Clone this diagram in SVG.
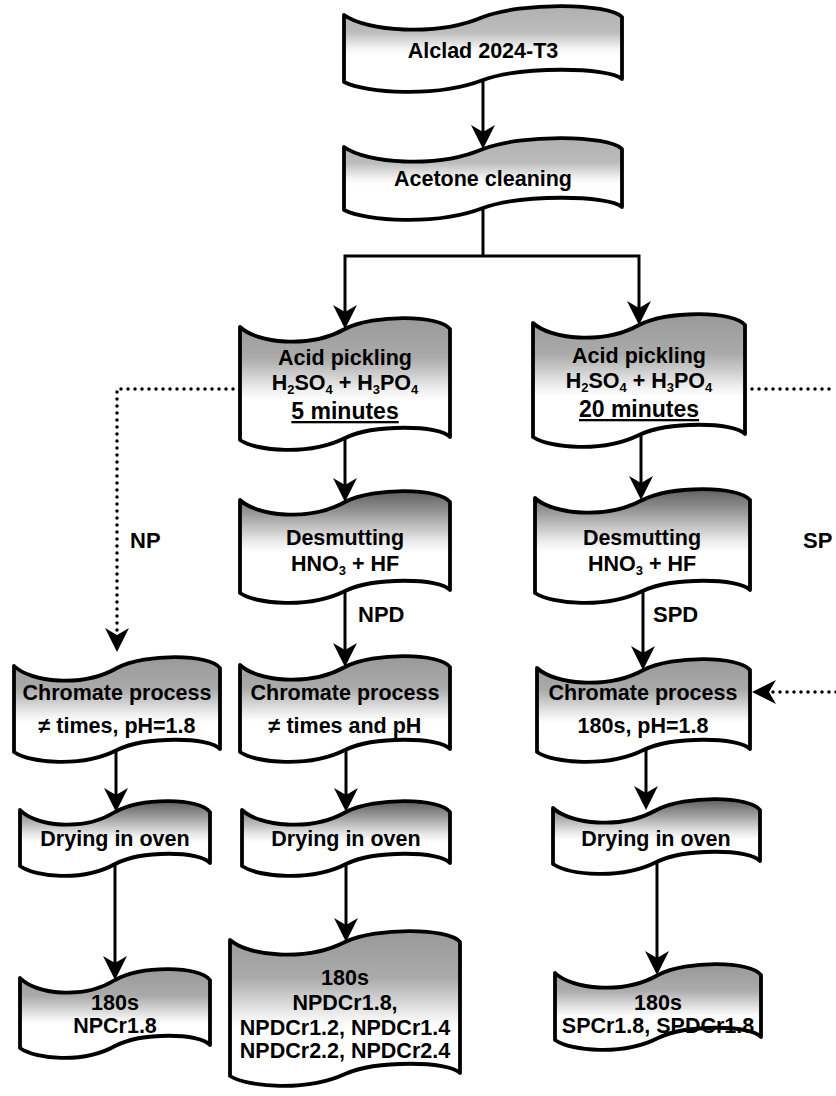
<svg xmlns="http://www.w3.org/2000/svg" width="836" height="1096" viewBox="0 0 836 1096">
  <style>
    .box { stroke: #000; stroke-width: 3.8; stroke-linejoin: round; }
    .lite { fill: url(#gLite); }
    .mid { fill: url(#gMid); }
    .dark { fill: url(#gDark); }
    .t { font-family: "Liberation Sans", Arial, sans-serif; font-weight: bold; font-size: 21.5px; fill: #000; text-anchor: middle; }
    .lbl { font-family: "Liberation Sans", Arial, sans-serif; font-weight: bold; font-size: 22px; fill: #000; }
    .sub { font-size: 13px; }
    .big { font-size: 23px; text-decoration: underline; }
    .wire { fill: none; stroke: #000; stroke-width: 3; }
    .dots { fill: none; stroke: #000; stroke-width: 3.5; stroke-linecap: round; stroke-dasharray: 0 7; }
  </style>
  <defs>
    <linearGradient id="gLite" x1="0" y1="0" x2="0" y2="1">
      <stop offset="0" stop-color="#b0b0b0"/>
      <stop offset="0.3" stop-color="#bcbcbc"/>
      <stop offset="0.5" stop-color="#f5f5f5"/>
      <stop offset="0.58" stop-color="#fff"/>
    </linearGradient>
    <linearGradient id="gMid" x1="0" y1="0" x2="0" y2="1">
      <stop offset="0" stop-color="#999"/>
      <stop offset="0.3" stop-color="#aaa"/>
      <stop offset="0.55" stop-color="#f0f0f0"/>
      <stop offset="0.62" stop-color="#fff"/>
    </linearGradient>
    <linearGradient id="gDark" x1="0" y1="0" x2="0" y2="1">
      <stop offset="0" stop-color="#606060"/>
      <stop offset="0.15" stop-color="#8a8a8a"/>
      <stop offset="0.45" stop-color="#eaeaea"/>
      <stop offset="0.55" stop-color="#fff"/>
    </linearGradient>
    <marker id="ah" markerUnits="userSpaceOnUse" markerWidth="26" markerHeight="26" viewBox="0 -13 26 26" refX="14" refY="0" orient="auto">
      <path d="M0,-12 L24,0 L0,12 L7,0 Z" fill="#000"/>
    </marker>
  </defs>

  <!-- connectors -->
  <g id="connectors">
    <path class="wire" d="M483,80 L483,139" marker-end="url(#ah)"/>
    <path class="wire" d="M483,208 L483,256"/>
    <path class="wire" d="M483,256 L345,256 L345,319" marker-end="url(#ah)"/>
    <path class="wire" d="M483,256 L639,256 L639,315" marker-end="url(#ah)"/>
    <path class="wire" d="M345,438 L345,492" marker-end="url(#ah)"/>
    <path class="wire" d="M641,435 L641,490" marker-end="url(#ah)"/>
    <path class="wire" d="M345,591 L345,657" marker-end="url(#ah)"/>
    <path class="wire" d="M643,591 L643,660" marker-end="url(#ah)"/>
    <path class="wire" d="M116,750 L116,802" marker-end="url(#ah)"/>
    <path class="wire" d="M346,750 L346,802" marker-end="url(#ah)"/>
    <path class="wire" d="M646,750 L646,800" marker-end="url(#ah)"/>
    <path class="wire" d="M115,864 L115,970" marker-end="url(#ah)"/>
    <path class="wire" d="M346,864 L346,932" marker-end="url(#ah)"/>
    <path class="wire" d="M657,862 L657,965" marker-end="url(#ah)"/>
    <path class="dots" d="M240,389 L117,389 L117,636"/>
    <path class="wire" d="M117,638 L117,642" marker-end="url(#ah)"/>
    <path class="dots" d="M745,389 L836,389"/>
    <path class="dots" d="M836,692 L768,692"/>
    <path class="wire" d="M764,692 L762,692" marker-end="url(#ah)"/>
    <text class="lbl" x="130" y="548">NP</text>
    <text class="lbl" x="803" y="548">SP</text>
    <text class="lbl" x="358" y="622">NPD</text>
    <text class="lbl" x="653" y="622">SPD</text>
  </g>

  <g id="alclad">
    <path class="box lite" d="M344,15 C366,31 436,37 483,17 C522,2 608,3 622,17 L622,79 C608,67 522,66 483,80 C436,98 366,93 344,82 Z"/>
    <text class="t" x="483" y="58">Alclad 2024-T3</text>
  </g>

  <g id="acetone">
    <path class="box lite" d="M344,147 C366,163 436,169 483,149 C522,134 608,135 622,149 L622,207 C608,195 522,194 483,208 C436,226 366,221 344,210 Z"/>
    <text class="t" x="483" y="186">Acetone cleaning</text>
  </g>

  <g id="pickling-5min">
    <path class="box mid" d="M240,327 C257,343 309,349 345,329 C374,314 440,315 450,329 L450,437 C440,425 374,424 345,438 C309,456 257,451 240,440 Z"/>
    <text class="t" x="345" y="365">Acid pickling</text>
    <text class="t" x="345" y="390">H<tspan class="sub" dy="4">2</tspan><tspan dy="-4">SO</tspan><tspan class="sub" dy="4">4</tspan><tspan dy="-4"> + H</tspan><tspan class="sub" dy="4">3</tspan><tspan dy="-4">PO</tspan><tspan class="sub" dy="4">4</tspan></text>
    <text class="t big" x="345" y="419">5 minutes</text>
  </g>

  <g id="pickling-20min">
    <path class="box mid" d="M533,323 C550,339 603,345 639,325 C669,310 734,311 745,325 L745,434 C734,422 669,421 639,435 C603,453 550,448 533,437 Z"/>
    <text class="t" x="639" y="363">Acid pickling</text>
    <text class="t" x="639" y="388">H<tspan class="sub" dy="4">2</tspan><tspan dy="-4">SO</tspan><tspan class="sub" dy="4">4</tspan><tspan dy="-4"> + H</tspan><tspan class="sub" dy="4">3</tspan><tspan dy="-4">PO</tspan><tspan class="sub" dy="4">4</tspan></text>
    <text class="t big" x="639" y="417">20 minutes</text>
  </g>

  <g id="desmut-npd">
    <path class="box dark" d="M240,500 C257,516 309,522 345,502 C374,487 440,488 450,502 L450,590 C440,578 374,577 345,591 C309,609 257,604 240,593 Z"/>
    <text class="t" x="345" y="545">Desmutting</text>
    <text class="t" x="345" y="571">HNO<tspan class="sub" dy="4">3</tspan><tspan dy="-4"> + HF</tspan></text>
  </g>

  <g id="desmut-spd">
    <path class="box dark" d="M535,498 C552,514 606,520 642.5,500 C673,485 739,486 750,500 L750,590 C739,578 673,577 642.5,591 C606,609 552,604 535,593 Z"/>
    <text class="t" x="642" y="545">Desmutting</text>
    <text class="t" x="642" y="571">HNO<tspan class="sub" dy="4">3</tspan><tspan dy="-4"> + HF</tspan></text>
  </g>

  <g id="chromate-np">
    <path class="box mid" d="M14,666 C30.5,682 82,688 117,668 C146,653 210,654 220,668 L220,749 C210,737 146,736 117,750 C82,768 30.5,763 14,752 Z"/>
    <text class="t" x="117" y="700">Chromate process</text>
    <text class="t" x="117" y="733">≠ times, pH=1.8</text>
  </g>

  <g id="chromate-npd">
    <path class="box mid" d="M240,665 C257,681 309,687 345,667 C374,652 440,653 450,667 L450,749 C440,737 374,736 345,750 C309,768 257,763 240,752 Z"/>
    <text class="t" x="345" y="700">Chromate process</text>
    <text class="t" x="345" y="733">≠ times and pH</text>
  </g>

  <g id="chromate-spd">
    <path class="box mid" d="M537,668 C554,684 607,690 643.5,670 C673,655 739,656 750,670 L750,749 C739,737 673,736 643.5,750 C607,768 554,763 537,752 Z"/>
    <text class="t" x="643" y="700">Chromate process</text>
    <text class="t" x="643" y="733">180s, pH=1.8</text>
  </g>

  <g id="drying-np">
    <path class="box dark" d="M20,810 C35,826 83,832 115,812 C142,797 200,798 210,812 L210,863 C200,851 142,850 115,864 C83,882 35,877 20,866 Z"/>
    <text class="t" x="115" y="846">Drying in oven</text>
  </g>

  <g id="drying-npd">
    <path class="box dark" d="M242,810 C259,826 311,832 346,812 C375,797 440,798 450,812 L450,863 C440,851 375,850 346,864 C311,882 259,877 242,866 Z"/>
    <text class="t" x="346" y="846">Drying in oven</text>
  </g>

  <g id="drying-spd">
    <path class="box dark" d="M553,808 C570,824 621,830 656.5,810 C685.5,795 750,796 760,810 L760,861 C750,849 685.5,848 656.5,862 C621,880 570,875 553,864 Z"/>
    <text class="t" x="656" y="846">Drying in oven</text>
  </g>

  <g id="result-np">
    <path class="box mid" d="M20,978 C35,994 83,1000 115,980 C142,965 200,966 210,980 L210,1045 C200,1033 142,1032 115,1046 C83,1064 35,1059 20,1048 Z"/>
    <text class="t" x="115" y="1010">180s</text>
    <text class="t" x="115" y="1033">NPCr1.8</text>
  </g>

  <g id="result-npd">
    <path class="box mid" d="M230,940 C248,956 306,962 345,942 C377,927 448.5,928 460,942 L460,1073 C448.5,1061 377,1060 345,1074 C306,1092 248,1087 230,1076 Z"/>
    <text class="t" x="345" y="985">180s</text>
    <text class="t" x="345" y="1010">NPDCr1.8,</text>
    <text class="t" x="345" y="1035">NPDCr1.2, NPDCr1.4</text>
    <text class="t" x="345" y="1058">NPDCr2.2, NPDCr2.4</text>
  </g>

  <g id="result-spd">
    <path class="box mid" d="M555,973 C571.5,989 623,995 658,975 C687,960 751,961 761,975 L761,1037 C751,1025 687,1024 658,1038 C623,1056 571.5,1051 555,1040 Z"/>
    <text class="t" x="658" y="1010">180s</text>
    <text class="t" x="658" y="1033">SPCr1.8, SPDCr1.8</text>
  </g>
</svg>
